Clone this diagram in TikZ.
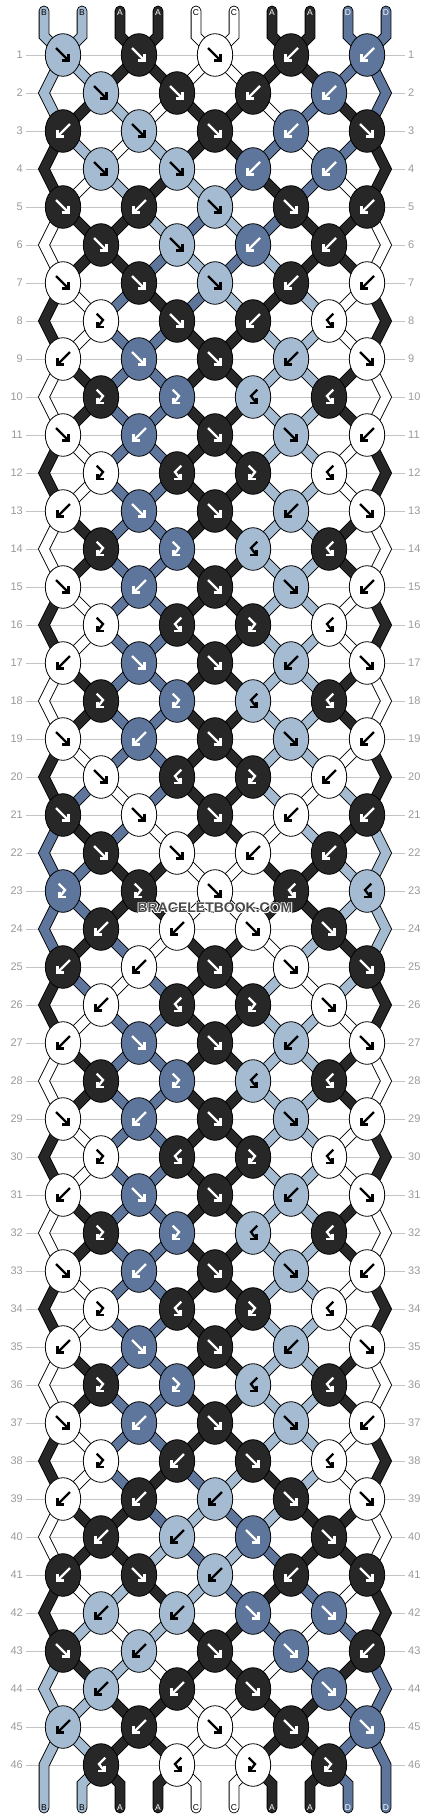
\documentclass[tikz,border=0pt]{standalone}
\usepackage{fontspec}
\setmainfont{Liberation Sans}
\usetikzlibrary{shapes.geometric}
\definecolor{cL}{HTML}{A5BBD1}
\definecolor{cK}{HTML}{272727}
\definecolor{cW}{HTML}{FFFFFF}
\definecolor{cD}{HTML}{5E769C}
\colorlet{aL}{black}
\colorlet{aK}{white}
\colorlet{aW}{black}
\colorlet{aD}{white}
\definecolor{rowgray}{HTML}{C4C4C4}
\definecolor{labgray}{HTML}{9A9A9A}
\definecolor{wmgray}{HTML}{4A4A4A}
\pgfdeclarelayer{grid}
\pgfdeclarelayer{bg}
\pgfsetlayers{grid,bg,main}
\tikzset{
  knot/.style={ellipse, draw=black, line width=0.8pt, minimum width=35.4pt, minimum height=42.6pt, inner sep=0pt},
  strand/.style={draw=black, line width=0.9pt, double=#1, double distance=9pt, line join=miter},
  endstrand/.style={strand=#1, line cap=round},
  glyph/.style={draw=#1, line width=2.3pt, line cap=butt, line join=miter},
  rowlab/.style={text=labgray, font=\fontsize{11}{11}\selectfont, inner sep=0pt},
  strlab/.style={text=#1, font=\fontsize{8.5}{8.5}\selectfont, inner sep=0pt},
  wmtext/.style={font=\bfseries\fontsize{14}{14}\selectfont, inner sep=0pt, text=#1},
}
\newcommand\kArF[2]{\begin{scope}[shift={(#1)}]
  \draw[glyph=#2] (-7,-7) -- (4.3,4.3);
  \draw[glyph=#2] (5.5,-1.2) -- (5.5,5.5) -- (-1.2,5.5);
\end{scope}}
\newcommand\kArB[2]{\begin{scope}[shift={(#1)}]
  \draw[glyph=#2] (7,-7) -- (-4.3,4.3);
  \draw[glyph=#2] (-5.5,-1.2) -- (-5.5,5.5) -- (1.2,5.5);
\end{scope}}
\newcommand\kArX[2]{\begin{scope}[shift={(#1)}]
  \draw[glyph=#2] (-4.3,-7.3) -- (2,-1) -- (-2.6,5);
  \draw[glyph=#2] (-3.4,0.5) -- (-3.4,6.3) -- (2.8,6.3);
\end{scope}}
\newcommand\kArY[2]{\begin{scope}[shift={(#1)}]
  \draw[glyph=#2] (4.3,-7.3) -- (-2,-1) -- (2.6,5);
  \draw[glyph=#2] (3.4,0.5) -- (3.4,6.3) -- (-2.8,6.3);
\end{scope}}
\begin{document}
\begin{tikzpicture}[x=1pt,y=-1pt]
\begin{pgfonlayer}{grid}
\fill[white] (0,0) rectangle (430,1820);
\end{pgfonlayer}
\useasboundingbox (0,0) rectangle (430,1820);
% free string ends and edge turning points
\foreach \p in {0,...,9}{
  \coordinate (top-\p) at ({44+38*\p},11);
  \coordinate (topb-\p) at ({44+38*\p},36);
  \coordinate (botb-\p) at ({44+38*\p},1784);
  \coordinate (bot-\p) at ({44+38*\p},1808);
}
\foreach \r in {2,4,...,46}{
  \coordinate (eL-\r) at (44,{55+38*(\r-1)});
  \coordinate (eR-\r) at (386,{55+38*(\r-1)});
}
% row lines and numbers
\foreach \r in {1,...,46}{
  \pgfmathsetmacro\y{55+38*(\r-1)}
  \begin{pgfonlayer}{grid}
  \draw[rowgray, line width=1pt] (26,\y) -- (405,\y);
  \end{pgfonlayer}
  \node[rowlab, anchor=east] (labl-\r) at (23,\y) {\r};
  \node[rowlab, anchor=west] (labr-\r) at (408,\y) {\r};
}
% knots
\foreach \r/\ks in {
1/{L/F,K/F,W/F,K/B,D/B},
2/{L/F,K/F,K/B,D/B},
3/{K/B,L/F,K/F,D/B,K/F},
4/{L/F,L/F,D/B,D/B},
5/{K/F,K/B,L/F,K/F,K/B},
6/{K/F,L/F,D/B,K/B},
7/{W/F,K/F,L/F,K/B,W/B},
8/{W/X,K/F,K/B,W/Y},
9/{W/B,D/F,K/F,L/B,W/F},
10/{K/X,D/X,L/Y,K/Y},
11/{W/F,D/B,K/F,L/F,W/B},
12/{W/X,K/Y,K/X,W/Y},
13/{W/B,D/F,K/F,L/B,W/F},
14/{K/X,D/X,L/Y,K/Y},
15/{W/F,D/B,K/F,L/F,W/B},
16/{W/X,K/Y,K/X,W/Y},
17/{W/B,D/F,K/F,L/B,W/F},
18/{K/X,D/X,L/Y,K/Y},
19/{W/F,D/B,K/F,L/F,W/B},
20/{W/F,K/Y,K/X,W/B},
21/{K/F,W/F,K/F,W/B,K/B},
22/{K/F,W/F,W/B,K/B},
23/{D/X,K/X,W/F,K/Y,L/Y},
24/{K/B,W/B,W/F,K/F},
25/{K/B,W/B,K/F,W/F,K/F},
26/{W/B,K/Y,K/X,W/F},
27/{W/B,D/F,K/F,L/B,W/F},
28/{K/X,D/X,L/Y,K/Y},
29/{W/F,D/B,K/F,L/F,W/B},
30/{W/X,K/Y,K/X,W/Y},
31/{W/B,D/F,K/F,L/B,W/F},
32/{K/X,D/X,L/Y,K/Y},
33/{W/F,D/B,K/F,L/F,W/B},
34/{W/X,K/Y,K/X,W/Y},
35/{W/B,D/F,K/F,L/B,W/F},
36/{K/X,D/X,L/Y,K/Y},
37/{W/F,D/B,K/F,L/F,W/B},
38/{W/X,K/B,K/F,W/Y},
39/{W/B,K/B,L/B,K/F,W/F},
40/{K/B,L/B,D/F,K/F},
41/{K/B,K/F,L/B,K/B,K/F},
42/{L/B,L/B,D/F,D/F},
43/{K/F,L/B,K/F,D/F,K/B},
44/{L/B,K/B,K/F,D/F},
45/{L/B,K/B,W/F,K/F,D/F},
46/{K/Y,W/Y,W/X,K/X}}{
  \foreach \kc/\kt [count=\k from 0] in \ks {
    \pgfmathsetmacro\x{(mod(\r,2)==1 ? 63 : 101) + 76*\k}
    \pgfmathsetmacro\y{55+38*(\r-1)}
    \node[knot, fill=c\kc] (k-\r-\k) at (\x,\y) {};
    \csname kAr\kt\endcsname{k-\r-\k}{a\kc}
  }
}
% strands
\begin{pgfonlayer}{bg}
\foreach \kc [count=\p from 0] in {L,L,K,K,W,W,K,K,D,D}{
  \pgfmathtruncatemacro\c{floor(\p/2)}
  \draw[endstrand=c\kc] (top-\p) -- (topb-\p) -- (k-1-\c.center);
}
\foreach \r/\st in {
1/{L,L,K,K,W,W,K,K,D,D},
2/{L,K,L,W,K,K,W,D,K,D},
3/{K,L,W,L,K,K,D,W,D,K},
4/{K,W,L,K,L,D,K,D,W,K},
5/{W,K,K,L,D,L,D,K,K,W},
6/{W,K,K,D,L,D,L,K,K,W},
7/{K,W,D,K,D,L,K,L,W,K},
8/{K,W,D,D,K,K,L,L,W,K},
9/{W,K,D,D,K,K,L,L,K,W},
10/{W,K,D,D,K,K,L,L,K,W},
11/{K,W,D,D,K,K,L,L,W,K},
12/{K,W,D,D,K,K,L,L,W,K},
13/{W,K,D,D,K,K,L,L,K,W},
14/{W,K,D,D,K,K,L,L,K,W},
15/{K,W,D,D,K,K,L,L,W,K},
16/{K,W,D,D,K,K,L,L,W,K},
17/{W,K,D,D,K,K,L,L,K,W},
18/{W,K,D,D,K,K,L,L,K,W},
19/{K,W,D,D,K,K,L,L,W,K},
20/{K,D,W,D,K,K,L,W,L,K},
21/{D,K,D,W,K,K,W,L,K,L},
22/{D,D,K,K,W,W,K,K,L,L},
23/{D,D,K,K,W,W,K,K,L,L},
24/{D,K,D,W,K,K,W,L,K,L},
25/{K,D,W,D,K,K,L,W,L,K},
26/{K,W,D,D,K,K,L,L,W,K},
27/{W,K,D,D,K,K,L,L,K,W},
28/{W,K,D,D,K,K,L,L,K,W},
29/{K,W,D,D,K,K,L,L,W,K},
30/{K,W,D,D,K,K,L,L,W,K},
31/{W,K,D,D,K,K,L,L,K,W},
32/{W,K,D,D,K,K,L,L,K,W},
33/{K,W,D,D,K,K,L,L,W,K},
34/{K,W,D,D,K,K,L,L,W,K},
35/{W,K,D,D,K,K,L,L,K,W},
36/{W,K,D,D,K,K,L,L,K,W},
37/{K,W,D,D,K,K,L,L,W,K},
38/{K,W,D,K,D,L,K,L,W,K},
39/{W,K,K,D,L,D,L,K,K,W},
40/{W,K,K,L,D,L,D,K,K,W},
41/{K,W,L,K,L,D,K,D,W,K},
42/{K,L,W,L,K,K,D,W,D,K},
43/{L,K,L,W,K,K,W,D,K,D},
44/{L,L,K,K,W,W,K,K,D,D},
45/{L,L,K,K,W,W,K,K,D,D}}{
  \pgfmathtruncatemacro\rn{\r+1}
  \pgfmathtruncatemacro\rnn{\r+2}
  \foreach \kc [count=\p from 0] in \st {
    \ifnum\p=0\relax
      \ifodd\r\relax
        \ifnum\r<45\relax
          \draw[strand=c\kc] (k-\r-0.center) -- (eL-\rn) -- (k-\rnn-0.center);
        \else
          \draw[endstrand=c\kc] (k-\r-0.center) -- (eL-\rn) -- (bot-0);
        \fi
      \fi
    \else\ifnum\p=9\relax
      \ifodd\r\relax
        \ifnum\r<45\relax
          \draw[strand=c\kc] (k-\r-4.center) -- (eR-\rn) -- (k-\rnn-4.center);
        \else
          \draw[endstrand=c\kc] (k-\r-4.center) -- (eR-\rn) -- (bot-9);
        \fi
      \fi
    \else
      \pgfmathtruncatemacro\ca{mod(\r,2)==1 ? floor(\p/2) : floor((\p-1)/2)}
      \pgfmathtruncatemacro\cb{mod(\r,2)==1 ? floor((\p-1)/2) : floor(\p/2)}
      \draw[strand=c\kc] (k-\r-\ca.center) -- (k-\rn-\cb.center);
    \fi\fi
  }
}
\foreach \kc [count=\p from 0] in {L,L,K,K,W,W,K,K,D,D}{
  \ifnum\p>0\relax\ifnum\p<9\relax
    \pgfmathtruncatemacro\c{floor((\p-1)/2)}
    \draw[endstrand=c\kc] (k-46-\c.center) -- (botb-\p) -- (bot-\p);
  \fi\fi
}
\end{pgfonlayer}
% string letters
\foreach \nm/\kc [count=\p from 0] in {B/L,B/L,A/K,A/K,C/W,C/W,A/K,A/K,D/D,D/D}{
  \node[strlab=a\kc] (st-\p) at ({44+38*\p},12.5) {\nm};
  \node[strlab=a\kc] (sb-\p) at ({44+38*\p},1807.5) {\nm};
}
% watermark
\foreach \dx/\dy [count=\i] in {-0.8/0,0.8/0,0/-0.8,0/0.8,-0.6/-0.6,0.6/-0.6,-0.6/0.6,0.6/0.6}{
  \node[wmtext=white] (wmh-\i) at ({215+\dx},{908+\dy}) {BRACELETBOOK.COM};
}
\node[wmtext=wmgray] (wm) at (215,908) {BRACELETBOOK.COM};
\end{tikzpicture}
\end{document}
